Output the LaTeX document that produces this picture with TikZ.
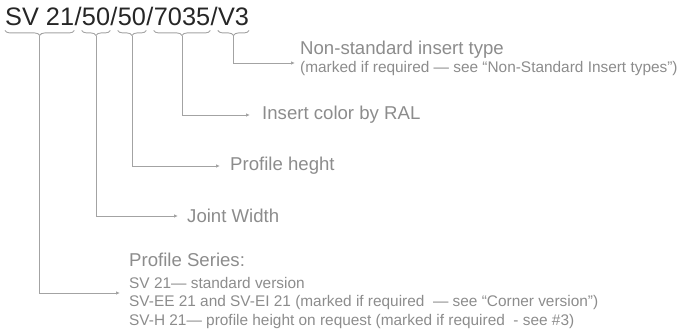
\documentclass[tikz,border=0pt]{standalone}
\usepackage{fontspec}
\setmainfont{Liberation Sans}
\usepackage{tikz}
\usetikzlibrary{positioning}
\usetikzlibrary{arrows.meta}
\usetikzlibrary{calc}
\usetikzlibrary{decorations.pathreplacing}
\definecolor{labelgray}{HTML}{8C8C8C}
\definecolor{linegray}{HTML}{A3A3A3}
\tikzset{
  part/.style={inner sep=0pt, text=black!85, font=\fontsize{25.3}{30}\selectfont},
  brc/.style={draw=linegray, line width=0.9pt, decorate, decoration={brace, mirror, amplitude=5pt}},
  conn/.style={draw=linegray, line width=0.9pt, -{Latex[length=4pt,width=3.5pt]}},
  lbl/.style={anchor=west, inner sep=0pt, text=labelgray, font=\fontsize{18.6}{22}\selectfont},
  note/.style={anchor=west, inner sep=0pt, text=labelgray, font=\fontsize{15.4}{18}\selectfont},
}

\begin{document}
\begin{tikzpicture}[x=1pt,y=-1pt]
    \useasboundingbox (0,0) rectangle (690,336);
    % the code, split in parts
    \node[part, anchor=base west] (cser) at (5,26) {SV 21};
    \node[part, base right=0pt of cser] (s1) {/};
    \node[part, base right=0pt of s1] (cwid) {50};
    \node[part, base right=0pt of cwid] (s2) {/};
    \node[part, base right=0pt of s2] (chgt) {50};
    \node[part, base right=0pt of chgt] (s3) {/};
    \node[part, base right=0pt of s3] (cral) {7035};
    \node[part, base right=0pt of cral] (s4) {/};
    \node[part, base right=0pt of s4] (cins) {V3};
    % braces under the parts
    \foreach \p in {cser,cwid,chgt,cral,cins}
      \draw[brc] ([yshift=-4pt]\p.south west) -- ([yshift=-4pt]\p.south east);
    % labels
    \node[lbl] (insert) at (300,50) {Non-standard insert type};
    \node[note] (insert note) at (300,69) {(marked if required — see “Non-Standard Insert types”)};
    \node[lbl] (ral) at (262,115) {Insert color by RAL};
    \node[lbl] (height) at (230,166) {Profile heght};
    \node[lbl] (width) at (187,216) {Joint Width};
    \node[lbl] (series) at (129,260) {Profile Series:};
    \node[note] (series a) at (129,283) {SV 21— standard version};
    \node[note] (series b) at (129,303) {SV-EE 21 and SV-EI 21 (marked if required ~— see “Corner version”)};
    \node[note] (series c) at (129,322) {SV-H 21— profile height on request (marked if required~ - see \#3)};
    % connectors
    \draw[conn] ([yshift=-10pt]cins.south) |- ([shift={(-5pt,6pt)}]insert note.west);
    \draw[conn] ([yshift=-10pt]cral.south) |- ([xshift=-12pt]ral.west);
    \draw[conn] ([yshift=-10pt]chgt.south) |- ([xshift=-10pt]height.west);
    \draw[conn] ([yshift=-10pt]cwid.south) |- ([xshift=-9pt]width.west);
    \draw[conn] ([yshift=-10pt]cser.south) |- ([xshift=-9pt]$(series a.west)!0.5!(series b.west)$);
\end{tikzpicture}
\end{document}
